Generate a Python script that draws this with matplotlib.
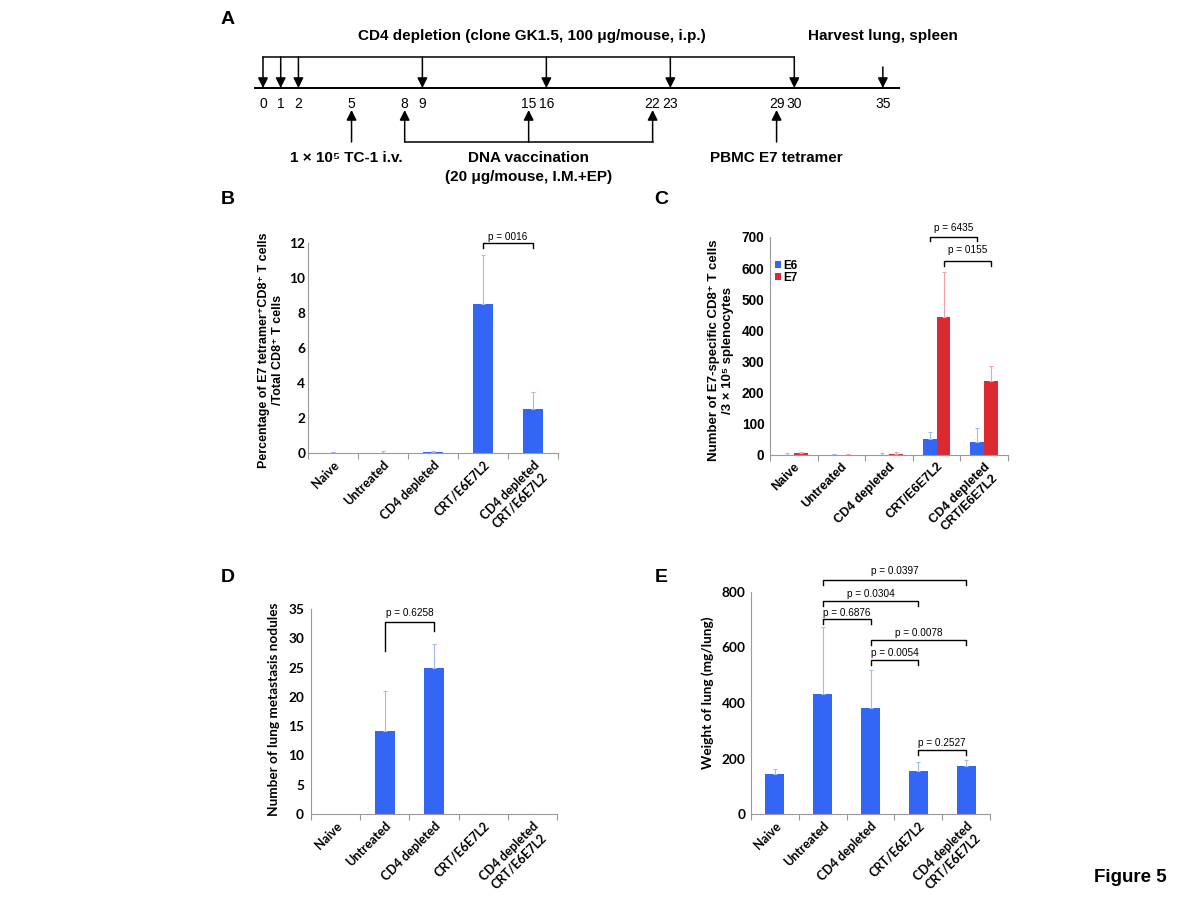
import matplotlib
matplotlib.use('Agg')
import matplotlib.pyplot as plt
import numpy as np

plt.rcParams['font.family'] = ['Liberation Sans', 'DejaVu Sans']

W, H = 1200, 900

# groups shared by panels B-E
groups = ['Naive', 'Untreated', 'CD4 depleted', 'CRT/E6E7L2', 'CD4 depleted\nCRT/E6E7L2']

# A: treatment schedule (days)
cd4_days = [0, 1, 2, 9, 16, 23, 30]
harvest_day = 35
tumor_day = 5
vacc_days = [8, 15, 22]
tetramer_day = 29

# B: % E7 tetramer+ CD8+ of total CD8+
tet_mean = [0.01, 0.02, 0.05, 8.5, 2.5]
tet_err = [0.02, 0.08, 0.08, 2.8, 1.0]

# C: E6 / E7 specific CD8+ T cells per 3x10^5 splenocytes
e6_mean = [0.5, 1, 1, 52, 42]
e6_err = [6, 1, 6, 23, 46]
e7_mean = [5, 1, 4, 443, 237]
e7_err = [6, 3, 5, 145, 50]

# D: lung metastasis nodules
nod_mean = [0, 14.1, 25.0, 0, 0]
nod_err = [0, 6.9, 4.0, 0, 0]

# E: lung weight (mg/lung)
lung_mean = [144, 432, 382, 155, 173]
lung_err = [18, 242, 137, 32, 22]

# p-value brackets: (x1, x2, y, left leg, right leg, text, text y)
p_B = [(3, 4, 12.0, 0.3, 0.3, 'p = 0016', 12.35)]
p_C = [(3 - 0.145, 4 - 0.145, 700, 13, 13, 'p = 6435', 729),
       (3 + 0.145, 4 + 0.145, 623, 15, 15, 'p = 0155', 658)]
p_D = [(1, 2, 32.8, 5.0, 1.6, 'p = 0.6258', 34.3)]
p_E = [(1, 4, 843, 18, 18, 'p = 0.0397', 875),
       (1, 3, 767, 18, 18, 'p = 0.0304', 792),
       (1, 2, 702, 18, 18, 'p = 0.6876', 724),
       (2, 4, 627, 18, 18, 'p = 0.0078', 652),
       (2, 3, 554, 18, 18, 'p = 0.0054', 580),
       (3, 4, 230, 18, 18, 'p = 0.2527', 256)]

BLUE = '#3366f5'
RED = '#dd2a30'
LBLUE = '#a3b9f2'
LRED = '#f0a3a3'
SPINE = '#9a9a9a'
x = np.arange(len(groups))


def px_rect(l, t, r, b):
    return [l / W, 1 - b / H, (r - l) / W, (b - t) / H]


def style_axes(ax, ylim, yticks, fam, size, ypad=4):
    ax.set_xlim(-0.5, 4.5)
    ax.set_ylim(*ylim)
    ax.spines['top'].set_visible(False)
    ax.spines['right'].set_visible(False)
    for s in ['left', 'bottom']:
        ax.spines[s].set_color(SPINE)
        ax.spines[s].set_linewidth(0.8)
    ax.set_xticks(x)
    ax.set_xticklabels(groups, rotation=45, ha='right', rotation_mode='anchor',
                       fontfamily=fam, fontweight='bold', fontsize=size,
                       multialignment='center')
    ax.tick_params(axis='x', which='major', length=0, pad=4)
    ax.set_xticks(np.arange(-0.5, 5, 1), minor=True)
    ax.tick_params(axis='x', which='minor', length=4, color=SPINE, width=0.8)
    ax.set_yticks(yticks)
    ax.tick_params(axis='y', length=0, pad=ypad)
    for lab in ax.get_yticklabels():
        lab.set_fontfamily(fam)
        lab.set_fontweight('bold')
        lab.set_fontsize(size + 0.8)


def brackets(ax, items):
    for x1, x2, y, l1, l2, txt, ty in items:
        ax.plot([x1, x1, x2, x2], [y - l1, y, y, y - l2], color='k', lw=1,
                clip_on=False)
        ax.text((x1 + x2) / 2, ty, txt, ha='center', va='center', fontsize=7.2,
                clip_on=False)


def ebar(color):
    return dict(ecolor=color, elinewidth=0.8, capsize=1.5, capthick=0.8)


fig = plt.figure(figsize=(12, 9), dpi=100)

# ---------------- A: timeline ----------------
axA = fig.add_axes([0, 1 - 190 / H, 1, 190 / H])
scale = 17.71  # px per day
axA.set_xlim(-263 / scale, (W - 263) / scale)
axA.set_ylim(190, 0)
axA.axis('off')


def arrow(ax, xd, y0, y1):
    ax.annotate('', xy=(xd, y1), xytext=(xd, y0),
                arrowprops=dict(arrowstyle='-|>', color='k', lw=1.1,
                                mutation_scale=15, shrinkA=0, shrinkB=0))


all_days = sorted(cd4_days + vacc_days + [harvest_day, tumor_day, tetramer_day])
axA.plot([all_days[0] - 0.45, all_days[-1] + 0.9], [88, 88], color='k', lw=1.4)
axA.plot([cd4_days[0], cd4_days[-1]], [57, 57], color='k', lw=1.1)
for d in cd4_days:
    arrow(axA, d, 57, 88)
arrow(axA, harvest_day, 67, 88)
for d in all_days:
    axA.text(d, 104, str(d), ha='center', va='center', fontsize=10)
arrow(axA, tumor_day, 142, 110)
axA.plot([vacc_days[0], vacc_days[-1]], [142, 142], color='k', lw=1.1)
for d in vacc_days:
    arrow(axA, d, 142, 110)
arrow(axA, tetramer_day, 142, 110)

txt_kw = dict(ha='center', va='center', fontsize=11, fontweight='bold')
axA.text(np.mean([cd4_days[0], cd4_days[-1]]) + 0.2, 36,
         'CD4 depletion (clone GK1.5, 100 μg/mouse, i.p.)', **txt_kw)
axA.text(harvest_day, 36, 'Harvest lung, spleen', **txt_kw)
axA.text(tumor_day - 0.3, 158, '1 × 10⁵ TC-1 i.v.', **txt_kw)
axA.text(vacc_days[1], 158, 'DNA vaccination', **txt_kw)
axA.text(vacc_days[1], 177, '(20 μg/mouse, I.M.+EP)', **txt_kw)
axA.text(tetramer_day, 158, 'PBMC E7 tetramer', **txt_kw)

# ---------------- B ----------------
axB = fig.add_axes(px_rect(308, 243, 558, 453))
axB.bar(x, tet_mean, 0.4, color=BLUE, yerr=[np.zeros(5), tet_err],
        error_kw=ebar(LBLUE))
style_axes(axB, (0, 12), range(0, 13, 2), 'Lato', 9, ypad=2)
brackets(axB, p_B)
fig.text(271 / W, 1 - 350 / H,
         'Percentage of E7 tetramer⁺CD8⁺ T cells\n/Total CD8⁺ T cells',
         rotation=90, ha='center', va='center', fontsize=9, fontweight='bold',
         linespacing=1.2)

# ---------------- C ----------------
axC = fig.add_axes(px_rect(770, 237, 1008, 455))
bw = 0.29
axC.bar(x - bw / 2, e6_mean, bw, color=BLUE, label='E6',
        yerr=[np.zeros(5), e6_err], error_kw=ebar(LBLUE))
axC.bar(x + bw / 2, e7_mean, bw, color=RED, label='E7',
        yerr=[np.zeros(5), e7_err], error_kw=ebar(LRED))
style_axes(axC, (0, 700), range(0, 701, 100), 'Liberation Sans', 9, ypad=4)
brackets(axC, p_C)
leg = axC.legend(loc='upper left', bbox_to_anchor=(0.02, 0.895), frameon=False,
                 handlelength=0.55, handleheight=0.55, handletextpad=0.2,
                 labelspacing=0.0, borderpad=0, borderaxespad=0,
                 prop=dict(weight='bold', size=8.5))
fig.text(721 / W, 1 - 350 / H,
         'Number of E7-specific CD8⁺ T cells\n/3 × 10⁵ splenocytes',
         rotation=90, ha='center', va='center', fontsize=9.5, fontweight='bold',
         linespacing=1.15)

# ---------------- D ----------------
axD = fig.add_axes(px_rect(311, 609, 557, 814))
axD.bar(x, nod_mean, 0.4, color=BLUE, yerr=[np.zeros(5), nod_err],
        error_kw=ebar(LBLUE))
style_axes(axD, (0, 35), range(0, 36, 5), 'Lato', 9, ypad=5)
brackets(axD, p_D)
fig.text(274 / W, 1 - 709 / H, 'Number of lung metastasis nodules',
         rotation=90, ha='center', va='center', fontsize=9.8,
         fontweight='bold', fontfamily='Lato')

# ---------------- E ----------------
axE = fig.add_axes(px_rect(751, 592, 990, 814))
axE.bar(x, lung_mean, 0.4, color=BLUE, yerr=[np.zeros(5), lung_err],
        error_kw=ebar(LBLUE))
style_axes(axE, (0, 800), range(0, 801, 200), 'Lato', 9, ypad=4)
brackets(axE, p_E)
fig.text(708 / W, 1 - 693 / H, 'Weight of lung (mg/lung)',
         rotation=90, ha='center', va='center', fontsize=9.8,
         fontweight='bold', fontfamily='Lato')

# panel letters
for lab, px, py in [('A', 228, 20), ('B', 228, 200), ('C', 661, 200),
                    ('D', 228, 578), ('E', 661, 578)]:
    fig.text(px / W, 1 - py / H, lab, ha='center', va='center', fontsize=14,
             fontweight='bold')
fig.text(1130 / W, 1 - 878 / H, 'Figure 5', ha='center', va='center',
         fontsize=13.5, fontweight='bold')

fig.savefig('out.png', dpi=100)
